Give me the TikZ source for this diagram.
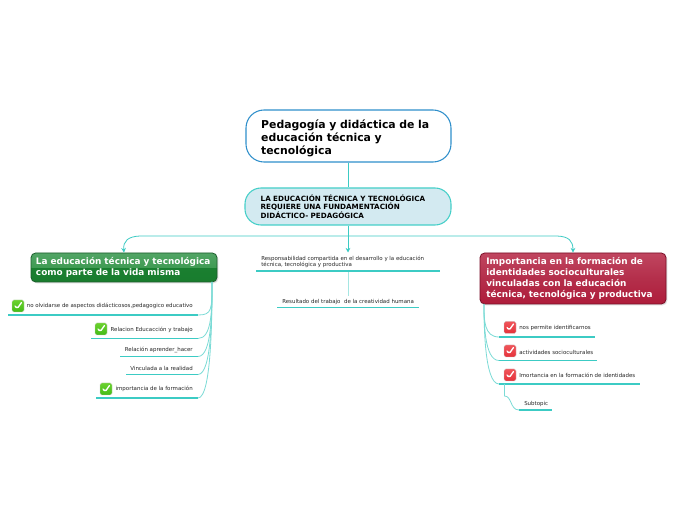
\documentclass[tikz,border=0pt]{standalone}
\usepackage{fontspec}
\setmainfont{DejaVu Sans}
\usetikzlibrary{shadows,arrows.meta}
\definecolor{teal1}{HTML}{3CCBC4}
\definecolor{teal2}{HTML}{A5E6E2}
\definecolor{gA}{HTML}{177A2C}\definecolor{gB}{HTML}{1A7F30}\definecolor{gC}{HTML}{3F9B53}\definecolor{gD}{HTML}{66AE78}
\definecolor{rA}{HTML}{A90A2B}\definecolor{rB}{HTML}{B42F4B}\definecolor{rC}{HTML}{CC5C74}
\definecolor{cgA}{HTML}{2FB00A}\definecolor{cgB}{HTML}{7FDD3A}
\definecolor{crA}{HTML}{E0202A}\definecolor{crB}{HTML}{F5666A}
\definecolor{rootline}{HTML}{2F8FCB}\definecolor{subline}{HTML}{45CFC8}\definecolor{subfill}{HTML}{D3EAF1}
\definecolor{greenline}{HTML}{1C5E2D}\definecolor{redline}{HTML}{7A1028}
\pgfdeclareverticalshading{glossgreen}{100bp}{color(0bp)=(gA);color(50bp)=(gB);color(50.1bp)=(gC);color(100bp)=(gD)}
\pgfdeclareverticalshading{glossred}{100bp}{color(0bp)=(rA);color(50bp)=(rB);color(100bp)=(rC)}
\pgfdeclareverticalshading{chkgreen}{100bp}{color(0bp)=(cgA);color(100bp)=(cgB)}
\pgfdeclareverticalshading{chkred}{100bp}{color(0bp)=(crA);color(100bp)=(crB)}
\tikzset{
  x=0.75pt,y=-0.75pt,
  rootbox/.style={draw=#1,line width=.8pt,rounded corners=13.5pt,align=left,inner sep=0pt},
  titletext/.style={font=\fontsize{8.15pt}{10.1pt}\selectfont\bfseries},
  subtitle/.style={font=\fontsize{5.4pt}{6.4pt}\selectfont\bfseries},
  mainbox/.style={draw=#1,line width=.6pt,rounded corners=3.5pt,align=left,inner sep=0pt,text=white,
     drop shadow={opacity=.25,shadow xshift=1pt,shadow yshift=-1pt}},
  maintext/.style={font=\fontsize{6.68pt}{8.1pt}\selectfont\bfseries},
  leaf/.style={inner sep=0pt,text=black!85,font=\fontsize{4.1pt}{4.6pt}\selectfont,align=left},
  chk/.style={minimum size=9pt,inner sep=0pt,rounded corners=1.2pt,shading=#1,draw=white!80!black,line width=.3pt,
     path picture={\draw[white,line width=1pt,line cap=round,line join=round]
       ([shift={(-2.2pt,0pt)}]path picture bounding box.center)--([shift={(-.6pt,-2pt)}]path picture bounding box.center)--([shift={(2.6pt,2.6pt)}]path picture bounding box.center);}},
  uline/.style={teal1,line width=1.1pt},
  conn/.style={teal1,line width=.6pt},
  paleconn/.style={teal2,line width=.6pt},
  softconn/.style={teal2!60!teal1,line width=.6pt},
  tipped/.style={conn,-{Stealth[length=3.5pt,width=3.5pt]}},
}
\begin{document}
\begin{tikzpicture}
\useasboundingbox (0,0) rectangle (697,520);
\fill[white] (0,0) rectangle (697,520);
% boxes
\node[rootbox=rootline,fill=white,minimum width=153.75pt,minimum height=39pt,text width=131pt,titletext] (root) at (348.5,136) {\rule{0pt}{10pt}Pedagogía y didáctica de la\\educación técnica y\\tecnológica};
\node[rootbox=subline,fill=subfill,minimum width=154.5pt,minimum height=27.75pt,text width=131pt,subtitle,rounded corners=12pt] (sub) at (348,206.5) {LA EDUCACIÓN TÉCNICA Y TECNOLÓGICA\\REQUIERE UNA FUNDAMENTACIÓN\\DIDÁCTICO- PEDAGÓGICA};
\node[mainbox=greenline,shading=glossgreen,minimum width=139.5pt,minimum height=21.75pt,text width=132pt,maintext] (green) at (124,267.5) {La educación técnica y tecnológica\\como parte de la vida misma};
\node[mainbox=redline,shading=glossred,minimum width=139.5pt,minimum height=38.25pt,text width=130pt,maintext] (red) at (573,278.5) {Importancia en la formación de\\identidades socioculturales\\vinculadas con la educación\\técnica, tecnológica y productiva};
% middle leaves
\node[leaf,anchor=west] (resp) at (261,262) {Responsabilidad compartida en el desarrollo y la educación\\técnica, tecnológica y productiva};
\coordinate (respL) at (256,271);\coordinate (respR) at (440,271);\coordinate (respM) at (348,271);
\node[leaf,anchor=west] (resu) at (282,302) {Resultado del trabajo\ \ de la creatividad humana};
\coordinate (resuL) at (277,307.5);\coordinate (resuR) at (419,307.5);\coordinate (resuM) at (348,296);
% left leaves
\node[leaf,anchor=east] (l1) at (193,306) {no olvidarse de aspectos didácticosos,pedagogico educativo};
\node[leaf,anchor=east] (l2) at (193,330) {Relacion Educacción y trabajo};
\node[leaf,anchor=east] (l3) at (193,350) {Relación aprender\_hacer};
\node[leaf,anchor=east] (l4) at (193,368) {Vinculada a la realidad};
\node[leaf,anchor=east] (l5) at (193,389) {importancia de la formación};
\node[chk=chkgreen] (c1) at (18,306) {};
\node[chk=chkgreen] (c2) at (101,329) {};
\node[chk=chkgreen] (c5) at (106,389) {};
\coordinate (u1L) at (8,315);\coordinate (u1R) at (198,315);
\coordinate (u2L) at (91,338.5);\coordinate (u2R) at (198,338.5);
\coordinate (u3L) at (120,356.5);\coordinate (u3R) at (198,356.5);
\coordinate (u4L) at (126,374.5);\coordinate (u4R) at (198,374.5);
\coordinate (u5L) at (96,398);\coordinate (u5R) at (198,398);
% right leaves
\node[leaf,anchor=west] (r1) at (519,328) {nos permite identificarnos};
\node[leaf,anchor=west] (r2) at (519,352) {actividades socioculturales};
\node[leaf,anchor=west] (r3) at (519,375) {Imortancia en la formación de identidades};
\node[leaf,anchor=west] (r4) at (524,404) {Subtopic};
\node[chk=chkred] (d1) at (510,327.5) {};
\node[chk=chkred] (d2) at (510,351) {};
\node[chk=chkred] (d3) at (510,375) {};
\coordinate (v1L) at (499,337);\coordinate (v1R) at (595,337);
\coordinate (v2L) at (499,360.5);\coordinate (v2R) at (597,360.5);
\coordinate (v3L) at (499,384);\coordinate (v3R) at (640,384);
\coordinate (v4L) at (519,410);\coordinate (v4R) at (552,410);
\coordinate (v3D) at (504.5,384);
\coordinate (gs) at (212,282);
\coordinate (rs) at (484,304);
% connectors
\draw[conn] (root.south -| sub) -- (sub.north);
\draw[tipped] (sub.south) -- (348,252.5);
\draw[tipped] (348,236) -- (140,236) .. controls (128,236.5) and (123,241) .. (green.north);
\draw[tipped] (348,236) -- (557,236) .. controls (569,236.5) and (573,241) .. (red.north);
\draw[paleconn] (respM) -- (resuM);
\foreach \a/\b in {respL/respR,resuL/resuR,u1L/u1R,u2L/u2R,u3L/u3R,u4L/u4R,u5L/u5R,v1L/v1R,v2L/v2R,v3L/v3R,v4L/v4R}{\draw[uline] (\a) -- (\b);}
\foreach \u in {u1R,u2R,u3R,u4R,u5R}{\draw[softconn] (gs) .. controls (212,310) and (gs |- \u) .. (\u);}
\foreach \v in {v1L,v2L,v3L}{\draw[softconn] (rs) .. controls (484,320) and (rs |- \v) .. (\v);}
\draw[softconn] (v3D) -- (504.5,396) .. controls (512,396) and (510,410) .. (v4L);
\end{tikzpicture}
\end{document}
